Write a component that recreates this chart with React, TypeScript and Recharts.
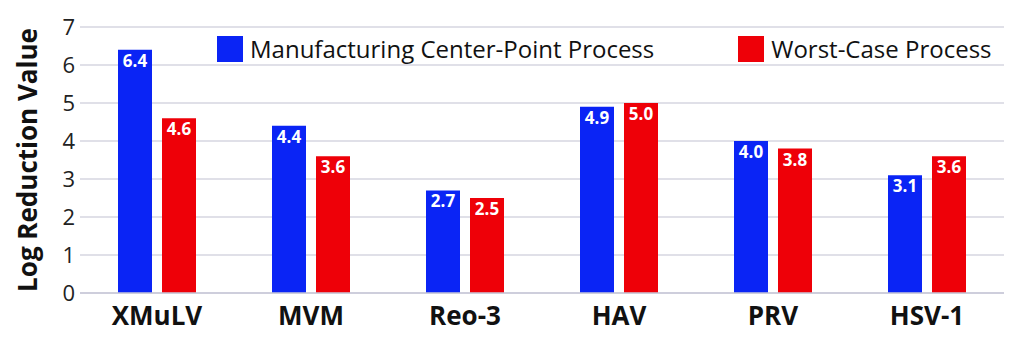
import { BarChart, Bar, XAxis, YAxis, CartesianGrid, Legend, LabelList, Label } from 'recharts';

const viruses = ['XMuLV', 'MVM', 'Reo-3', 'HAV', 'PRV', 'HSV-1'];
const centerPoint = [6.4, 4.4, 2.7, 4.9, 4.0, 3.1];
const worstCase = [4.6, 3.6, 2.5, 5.0, 3.8, 3.6];
const yTicks = [0, 1, 2, 3, 4, 5, 6, 7];

const data = viruses.map((name, i) => ({
  name,
  center: centerPoint[i],
  worst: worstCase[i],
}));

const BLUE = '#0a24f5';
const RED = '#ee0008';
const FONT = '"Open Sans", sans-serif';

const LegendBox = () => (
  <div style={{ display: 'flex', alignItems: 'center', fontFamily: FONT, fontSize: 24, color: '#111', whiteSpace: 'nowrap' }}>
    <span style={{ width: 26, height: 26, background: BLUE, display: 'inline-block', marginRight: 7 }} />
    <span style={{ marginRight: 84 }}>Manufacturing Center-Point Process</span>
    <span style={{ width: 26, height: 26, background: RED, display: 'inline-block', marginRight: 7 }} />
    <span>Worst-Case Process</span>
  </div>
);

const fmt = (v: number) => v.toFixed(1);

const App = () => {
  return (
    <div style={{ width: 1024, height: 341, background: '#fff' }}>
      <style>{'body{margin:0}'}</style>
      <BarChart
        width={1024}
        height={341}
        data={data}
        margin={{ top: 27, right: 20, left: 0, bottom: 0 }}
        barSize={34}
        barGap={10}
      >
        <CartesianGrid vertical={false} stroke="#d6d6e0" strokeWidth={1.5} />
        <XAxis
          dataKey="name"
          height={48}
          tickLine={false}
          axisLine={{ stroke: '#c8c8d8', strokeWidth: 1.5 }}
          tickMargin={8}
          tick={{ fill: '#111', fontSize: 26, fontWeight: 700, fontFamily: FONT }}
        />
        <YAxis
          width={80}
          domain={[0, 7]}
          ticks={yTicks}
          interval={0}
          tickLine={false}
          axisLine={false}
          tickSize={0}
          tickMargin={5}
          tick={{ fill: '#222', fontSize: 22, fontFamily: FONT }}
        >
          <Label
            content={() => (
              <text
                x={30}
                y={160}
                transform="rotate(-90 30 160)"
                textAnchor="middle"
                dominantBaseline="middle"
                fontSize={26}
                fontWeight={700}
                fontFamily={FONT}
                fill="#111"
              >
                Log Reduction Value
              </text>
            )}
          />
        </YAxis>
        <Legend
          verticalAlign="middle"
          align="center"
          content={<LegendBox />}
          wrapperStyle={{ top: 32, left: 217, width: 'auto' }}
        />
        <Bar dataKey="center" fill={BLUE} isAnimationActive={false}>
          <LabelList
            dataKey="center"
            position="insideTop"
            offset={5}
            formatter={fmt}
            fill="#fff"
            fontSize={17}
            fontWeight={700}
            fontFamily={FONT}
          />
        </Bar>
        <Bar dataKey="worst" fill={RED} isAnimationActive={false}>
          <LabelList
            dataKey="worst"
            position="insideTop"
            offset={5}
            formatter={fmt}
            fill="#fff"
            fontSize={17}
            fontWeight={700}
            fontFamily={FONT}
          />
        </Bar>
      </BarChart>
    </div>
  );
};

export default App;
